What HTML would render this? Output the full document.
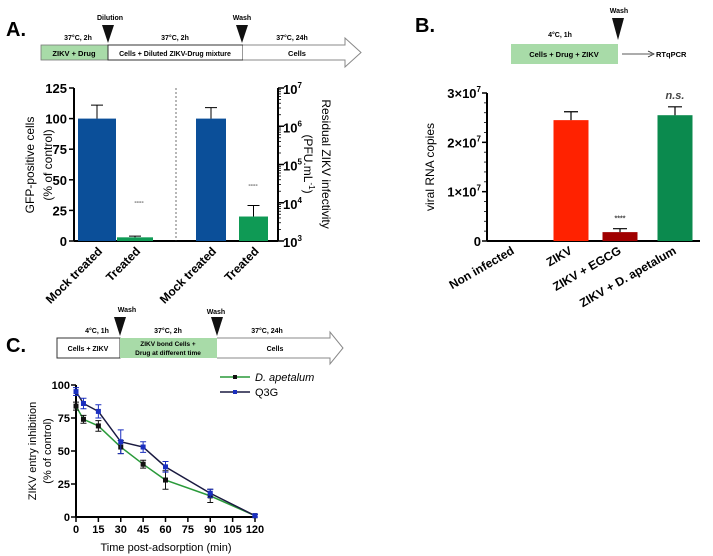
<!DOCTYPE html>
<html><head><meta charset="utf-8"><style>
html,body{margin:0;padding:0;background:#fff;}
svg{display:block;font-family:"Liberation Sans",Arial,sans-serif;}
.b{font-weight:bold}
</style></head><body>
<svg id="fig" width="713" height="556" viewBox="0 0 713 556">
<g>
<text x="6" y="36" font-size="20" class="b">A.</text>
<rect x="41" y="45" width="67" height="15" fill="#a8dba8" stroke="#777" stroke-width="0.8"/>
<rect x="108" y="45" width="135" height="15" fill="#fff" stroke="#333" stroke-width="1"/>
<path d="M243 45 H345 V38 L361 52.5 L345 67 V60 H243" fill="#fff" stroke="#888" stroke-width="1"/>
<text x="74" y="56" font-size="7.5" class="b" text-anchor="middle">ZIKV + Drug</text>
<text x="175" y="56" font-size="7" class="b" text-anchor="middle">Cells + Diluted ZIKV-Drug mixture</text>
<text x="297" y="56" font-size="7.5" class="b" text-anchor="middle">Cells</text>
<text x="78" y="40" font-size="7" class="b" text-anchor="middle">37°C, 2h</text>
<text x="175" y="40" font-size="7" class="b" text-anchor="middle">37°C, 2h</text>
<text x="292" y="40" font-size="7" class="b" text-anchor="middle">37°C, 24h</text>
<text x="110" y="20" font-size="7" class="b" text-anchor="middle">Dilution</text>
<text x="242" y="20" font-size="7" class="b" text-anchor="middle">Wash</text>
<path d="M102 25 L114 25 L108 43 Z" fill="#111"/>
<path d="M236 25 L248 25 L242 43 Z" fill="#111"/>
</g>
<g id="chartA"></g>
<g>
<text x="415" y="32" font-size="20" class="b">B.</text>
<rect x="511" y="44" width="107" height="20" fill="#a8dba8"/>
<text x="564" y="57" font-size="7.5" class="b" text-anchor="middle">Cells + Drug + ZIKV</text>
<text x="560" y="37" font-size="7" class="b" text-anchor="middle">4°C, 1h</text>
<text x="619" y="13" font-size="7" class="b" text-anchor="middle">Wash</text>
<path d="M612 18 L624 18 L618 40 Z" fill="#111"/>
<line x1="622" y1="54" x2="652" y2="54" stroke="#222" stroke-width="0.8"/>
<path d="M648 51 L654 54 L648 57" fill="none" stroke="#222" stroke-width="0.8"/>
<text x="656" y="57" font-size="7.5" class="b">RTqPCR</text>
</g>
<g id="chartB"></g>
<g>
<text x="6" y="352" font-size="20" class="b">C.</text>
<rect x="57" y="338" width="63" height="20" fill="#fff" stroke="#333" stroke-width="1"/>
<rect x="120" y="338" width="97" height="20" fill="#a8dba8"/>
<path d="M217 338 H330 V332 L343 348 L330 364 V358 H217" fill="#fff" stroke="#888" stroke-width="1"/>
<text x="88" y="351" font-size="7" class="b" text-anchor="middle">Cells + ZIKV</text>
<text x="168" y="346" font-size="6.5" class="b" text-anchor="middle">ZIKV bond Cells +</text>
<text x="168" y="355" font-size="6.5" class="b" text-anchor="middle">Drug at different time</text>
<text x="275" y="351" font-size="7" class="b" text-anchor="middle">Cells</text>
<text x="97" y="333" font-size="7" class="b" text-anchor="middle">4°C, 1h</text>
<text x="168" y="333" font-size="7" class="b" text-anchor="middle">37°C, 2h</text>
<text x="267" y="333" font-size="7" class="b" text-anchor="middle">37°C, 24h</text>
<text x="127" y="312" font-size="7" class="b" text-anchor="middle">Wash</text>
<text x="216" y="314" font-size="7" class="b" text-anchor="middle">Wash</text>
<path d="M114 317 L126 317 L120 336 Z" fill="#111"/>
<path d="M211 317 L223 317 L217 336 Z" fill="#111"/>
</g>
<g id="chartC"></g>
</svg>
<script>
const NS="http://www.w3.org/2000/svg";
function mk(p,t,a,txt){const e=document.createElementNS(NS,t);for(const k in a)e.setAttribute(k,a[k]);if(txt!==undefined)e.textContent=txt;p.appendChild(e);return e;}

// ---------- Panel A data ----------
const aCategories=["Mock treated","Treated","Mock treated","Treated"];
const aValues=[100,3,100,20];
const aErrors=[11,1,9,9];
const aColors=["#0b4f99","#0f9a55","#0b4f99","#0f9a55"];
const aLeftTicks=[0,25,50,75,100,125];
const aRightTicks=["3","4","5","6","7"];
const aStars=["----","----"];

const gA=document.getElementById('chartA');
const aY=v=>241-v*(153/125);
const aX0=[78,117,196,239], aW=[38,36,30,29];
mk(gA,'line',{x1:74,y1:88,x2:74,y2:241,stroke:'#000','stroke-width':2});
mk(gA,'line',{x1:74,y1:241,x2:278,y2:241,stroke:'#000','stroke-width':2});
mk(gA,'line',{x1:278,y1:88,x2:278,y2:241,stroke:'#000','stroke-width':2});
mk(gA,'line',{x1:176,y1:88,x2:176,y2:241,stroke:'#333','stroke-width':0.7,'stroke-dasharray':'2,2'});
aLeftTicks.forEach(t=>{
  const tk=mk(gA,'line',{x1:69,y1:aY(t),x2:74,y2:aY(t),stroke:'#000','stroke-width':1.5});
  
  
  const lb=mk(gA,'text',{x:67,y:aY(t)+5,'font-size':13,'font-weight':'bold','text-anchor':'end'},t);
  
  
});
aRightTicks.forEach((t,i)=>{
  const y=241-i*153/4;
  mk(gA,'line',{x1:278,y1:y,x2:284,y2:y,stroke:'#000','stroke-width':1.5});
  for(let k=2;k<10&&i<4;k++){const yy=y-Math.log10(k)*153/4;mk(gA,'line',{x1:278,y1:yy,x2:281,y2:yy,stroke:'#000','stroke-width':0.8});}
  const lb=mk(gA,'text',{x:283,y:y+6,'font-size':13,'font-weight':'bold'});
  
  
  mk(lb,'tspan',{},"10");mk(lb,'tspan',{dy:-6,'font-size':8},t);
});
aValues.forEach((v,i)=>{
  const x=aX0[i],w=aW[i],cx=x+w/2;
  const r=mk(gA,'rect',{x:x,y:aY(v),width:w,height:241-aY(v),fill:aColors[i]});
  
  
  const e=aErrors[i];
  mk(gA,'path',{d:`M${cx} ${aY(v)} V${aY(v+e)} M${cx-6} ${aY(v+e)} H${cx+6}`,stroke:'#000','stroke-width':1,fill:'none'});
  const lb=mk(gA,'text',{x:0,y:0,'font-size':12,'font-weight':'bold','text-anchor':'end',transform:`translate(${cx+6},${252}) rotate(-45)`},aCategories[i]);
  
  
});
mk(gA,'text',{x:139,y:204,'font-size':7,'font-weight':'bold','text-anchor':'middle',fill:'#444'},aStars[0]);
mk(gA,'text',{x:253,y:187,'font-size':7,'font-weight':'bold','text-anchor':'middle',fill:'#444'},aStars[1]);
let t1=mk(gA,'text',{x:0,y:0,'font-size':12,'text-anchor':'middle',transform:'translate(34,165) rotate(-90)'},"GFP-positive cells");

mk(gA,'text',{x:0,y:0,'font-size':12,'text-anchor':'middle',transform:'translate(52,165) rotate(-90)'},"(% of control)");
let t2=mk(gA,'text',{x:0,y:0,'font-size':12,'text-anchor':'middle',transform:'translate(322,164) rotate(90)'},"Residual ZIKV infectivity");

const t3=mk(gA,'text',{x:0,y:0,'font-size':12,'text-anchor':'middle',transform:'translate(304,164) rotate(90)'});
mk(t3,'tspan',{},"(PFU.mL");mk(t3,'tspan',{dy:-5,'font-size':8},"-1");mk(t3,'tspan',{dy:5},")");

// ---------- Panel B data ----------
const bCategories=["Non infected","ZIKV","ZIKV + EGCG","ZIKV + D. apetalum"];
const bValues=[0,2.45,0.18,2.55];
const bErrors=[0,0.17,0.07,0.17];
const bColors=["#000","#ff2200","#a00000","#0b8a4e"];
const bTicks=[0,1,2,3];
const bNotes=["","","****","n.s."];

const gB=document.getElementById('chartB');
const bY=v=>241-v*(148/3);
const bXc=[513,571,620,675];
mk(gB,'line',{x1:487,y1:93,x2:487,y2:241,stroke:'#000','stroke-width':2});
mk(gB,'line',{x1:487,y1:241,x2:700,y2:241,stroke:'#000','stroke-width':2});
bTicks.forEach(t=>{
  mk(gB,'line',{x1:482,y1:bY(t),x2:487,y2:bY(t),stroke:'#000','stroke-width':1.5});
  for(let k=1;k<5&&t<3;k++){const yy=bY(t+k/5);mk(gB,'line',{x1:484,y1:yy,x2:487,y2:yy,stroke:'#000','stroke-width':0.8});}
  const lb=mk(gB,'text',{x:481,y:bY(t)+5,'font-size':13,'font-weight':'bold','text-anchor':'end'});
  
  
  if(t===0)lb.textContent="0";else{mk(lb,'tspan',{},t+"×10");mk(lb,'tspan',{dy:-6,'font-size':8},"7");}
});
bValues.forEach((v,i)=>{
  const cx=bXc[i],w=35;
  if(v>0){
    const r=mk(gB,'rect',{x:cx-w/2,y:bY(v),width:w,height:241-bY(v),fill:bColors[i]});
    
    
    const e=bErrors[i];
    mk(gB,'path',{d:`M${cx} ${bY(v)} V${bY(v+e)} M${cx-7} ${bY(v+e)} H${cx+7}`,stroke:'#000','stroke-width':1.2,fill:'none'});
  }
  if(bNotes[i]){const n=mk(gB,'text',{x:cx,y:bY(v+bErrors[i])-8,'font-size':bNotes[i]==='n.s.'?11:7,'font-style':bNotes[i]==='n.s.'?'italic':'normal','font-weight':'bold','text-anchor':'middle',fill:'#444'},bNotes[i]);
    }
  const lb=mk(gB,'text',{x:0,y:0,'font-size':12,'font-weight':'bold','text-anchor':'end',transform:`translate(${cx+2},${253}) rotate(-30)`},bCategories[i]);
  
  
});
let tb=mk(gB,'text',{x:0,y:0,'font-size':12,'text-anchor':'middle',transform:'translate(434,167) rotate(-90)'},"viral RNA copies");


// ---------- Panel C data ----------
const cTimes=[0,5,15,30,45,60,90,120];
const cApetalum=[84,74,69,53,40,28,16,1];
const cApetalumErr=[3,3,4,5,3,7,5,1];
const cQ3G=[95,86,80,57,53,38,18,1];
const cQ3GErr=[3,4,5,9,4,4,3,1];
const cXTicks=[0,15,30,45,60,75,90,105,120];
const cYTicks=[0,25,50,75,100];

const gC=document.getElementById('chartC');
const cX=t=>76+t*(179/120);
const cY=v=>517-v*(132/100);
mk(gC,'line',{x1:76,y1:385,x2:76,y2:517,stroke:'#000','stroke-width':2});
mk(gC,'line',{x1:76,y1:517,x2:255,y2:517,stroke:'#000','stroke-width':2});
cYTicks.forEach(t=>{
  mk(gC,'line',{x1:71,y1:cY(t),x2:76,y2:cY(t),stroke:'#000','stroke-width':1.5});
  const lb=mk(gC,'text',{x:70,y:cY(t)+4,'font-size':11,'font-weight':'bold','text-anchor':'end'},t);
  
});
cXTicks.forEach(t=>{
  mk(gC,'line',{x1:cX(t),y1:517,x2:cX(t),y2:522,stroke:'#000','stroke-width':1.5});
  const lb=mk(gC,'text',{x:cX(t),y:533,'font-size':11,'font-weight':'bold','text-anchor':'middle'},t);
  
});
function series(vals,errs,color,mcolor,name){
  const g=mk(gC,'g',{});
  
  
  mk(g,'polyline',{points:cTimes.map((t,i)=>cX(t)+','+cY(vals[i])).join(' '),fill:'none',stroke:color,'stroke-width':1.5});
  cTimes.forEach((t,i)=>{
    const x=cX(t),y=cY(vals[i]),e=errs[i];
    mk(g,'path',{d:`M${x} ${cY(vals[i]-e)} V${cY(vals[i]+e)} M${x-3} ${cY(vals[i]-e)} H${x+3} M${x-3} ${cY(vals[i]+e)} H${x+3}`,stroke:mcolor,'stroke-width':1,fill:'none'});
    const m=mk(g,'rect',{x:x-2.5,y:y-2.5,width:5,height:5,fill:mcolor});
    
    
  });
}
series(cApetalum,cApetalumErr,'#2a9a3a','#111','series-d-apetalum');
series(cQ3G,cQ3GErr,'#1a1a40','#1a2fbf','series-q3g');
const lg=mk(gC,'g',{});


mk(lg,'line',{x1:220,y1:377,x2:250,y2:377,stroke:'#2a9a3a','stroke-width':1.5});
mk(lg,'rect',{x:233,y:375,width:4,height:4,fill:'#111'});
mk(lg,'text',{x:255,y:381,'font-size':11,'font-style':'italic'},"D. apetalum");
mk(lg,'line',{x1:220,y1:392,x2:250,y2:392,stroke:'#1a1a40','stroke-width':1.5});
mk(lg,'rect',{x:233,y:390,width:4,height:4,fill:'#1a2fbf'});
mk(lg,'text',{x:255,y:396,'font-size':11},"Q3G");
let tcx=mk(gC,'text',{x:166,y:551,'font-size':11,'text-anchor':'middle'},"Time post-adsorption (min)");

let tcy=mk(gC,'text',{x:0,y:0,'font-size':11,'text-anchor':'middle',transform:'translate(36,451) rotate(-90)'},"ZIKV entry inhibition");

mk(gC,'text',{x:0,y:0,'font-size':11,'text-anchor':'middle',transform:'translate(51,451) rotate(-90)'},"(% of control)");
</script>
</body></html>
